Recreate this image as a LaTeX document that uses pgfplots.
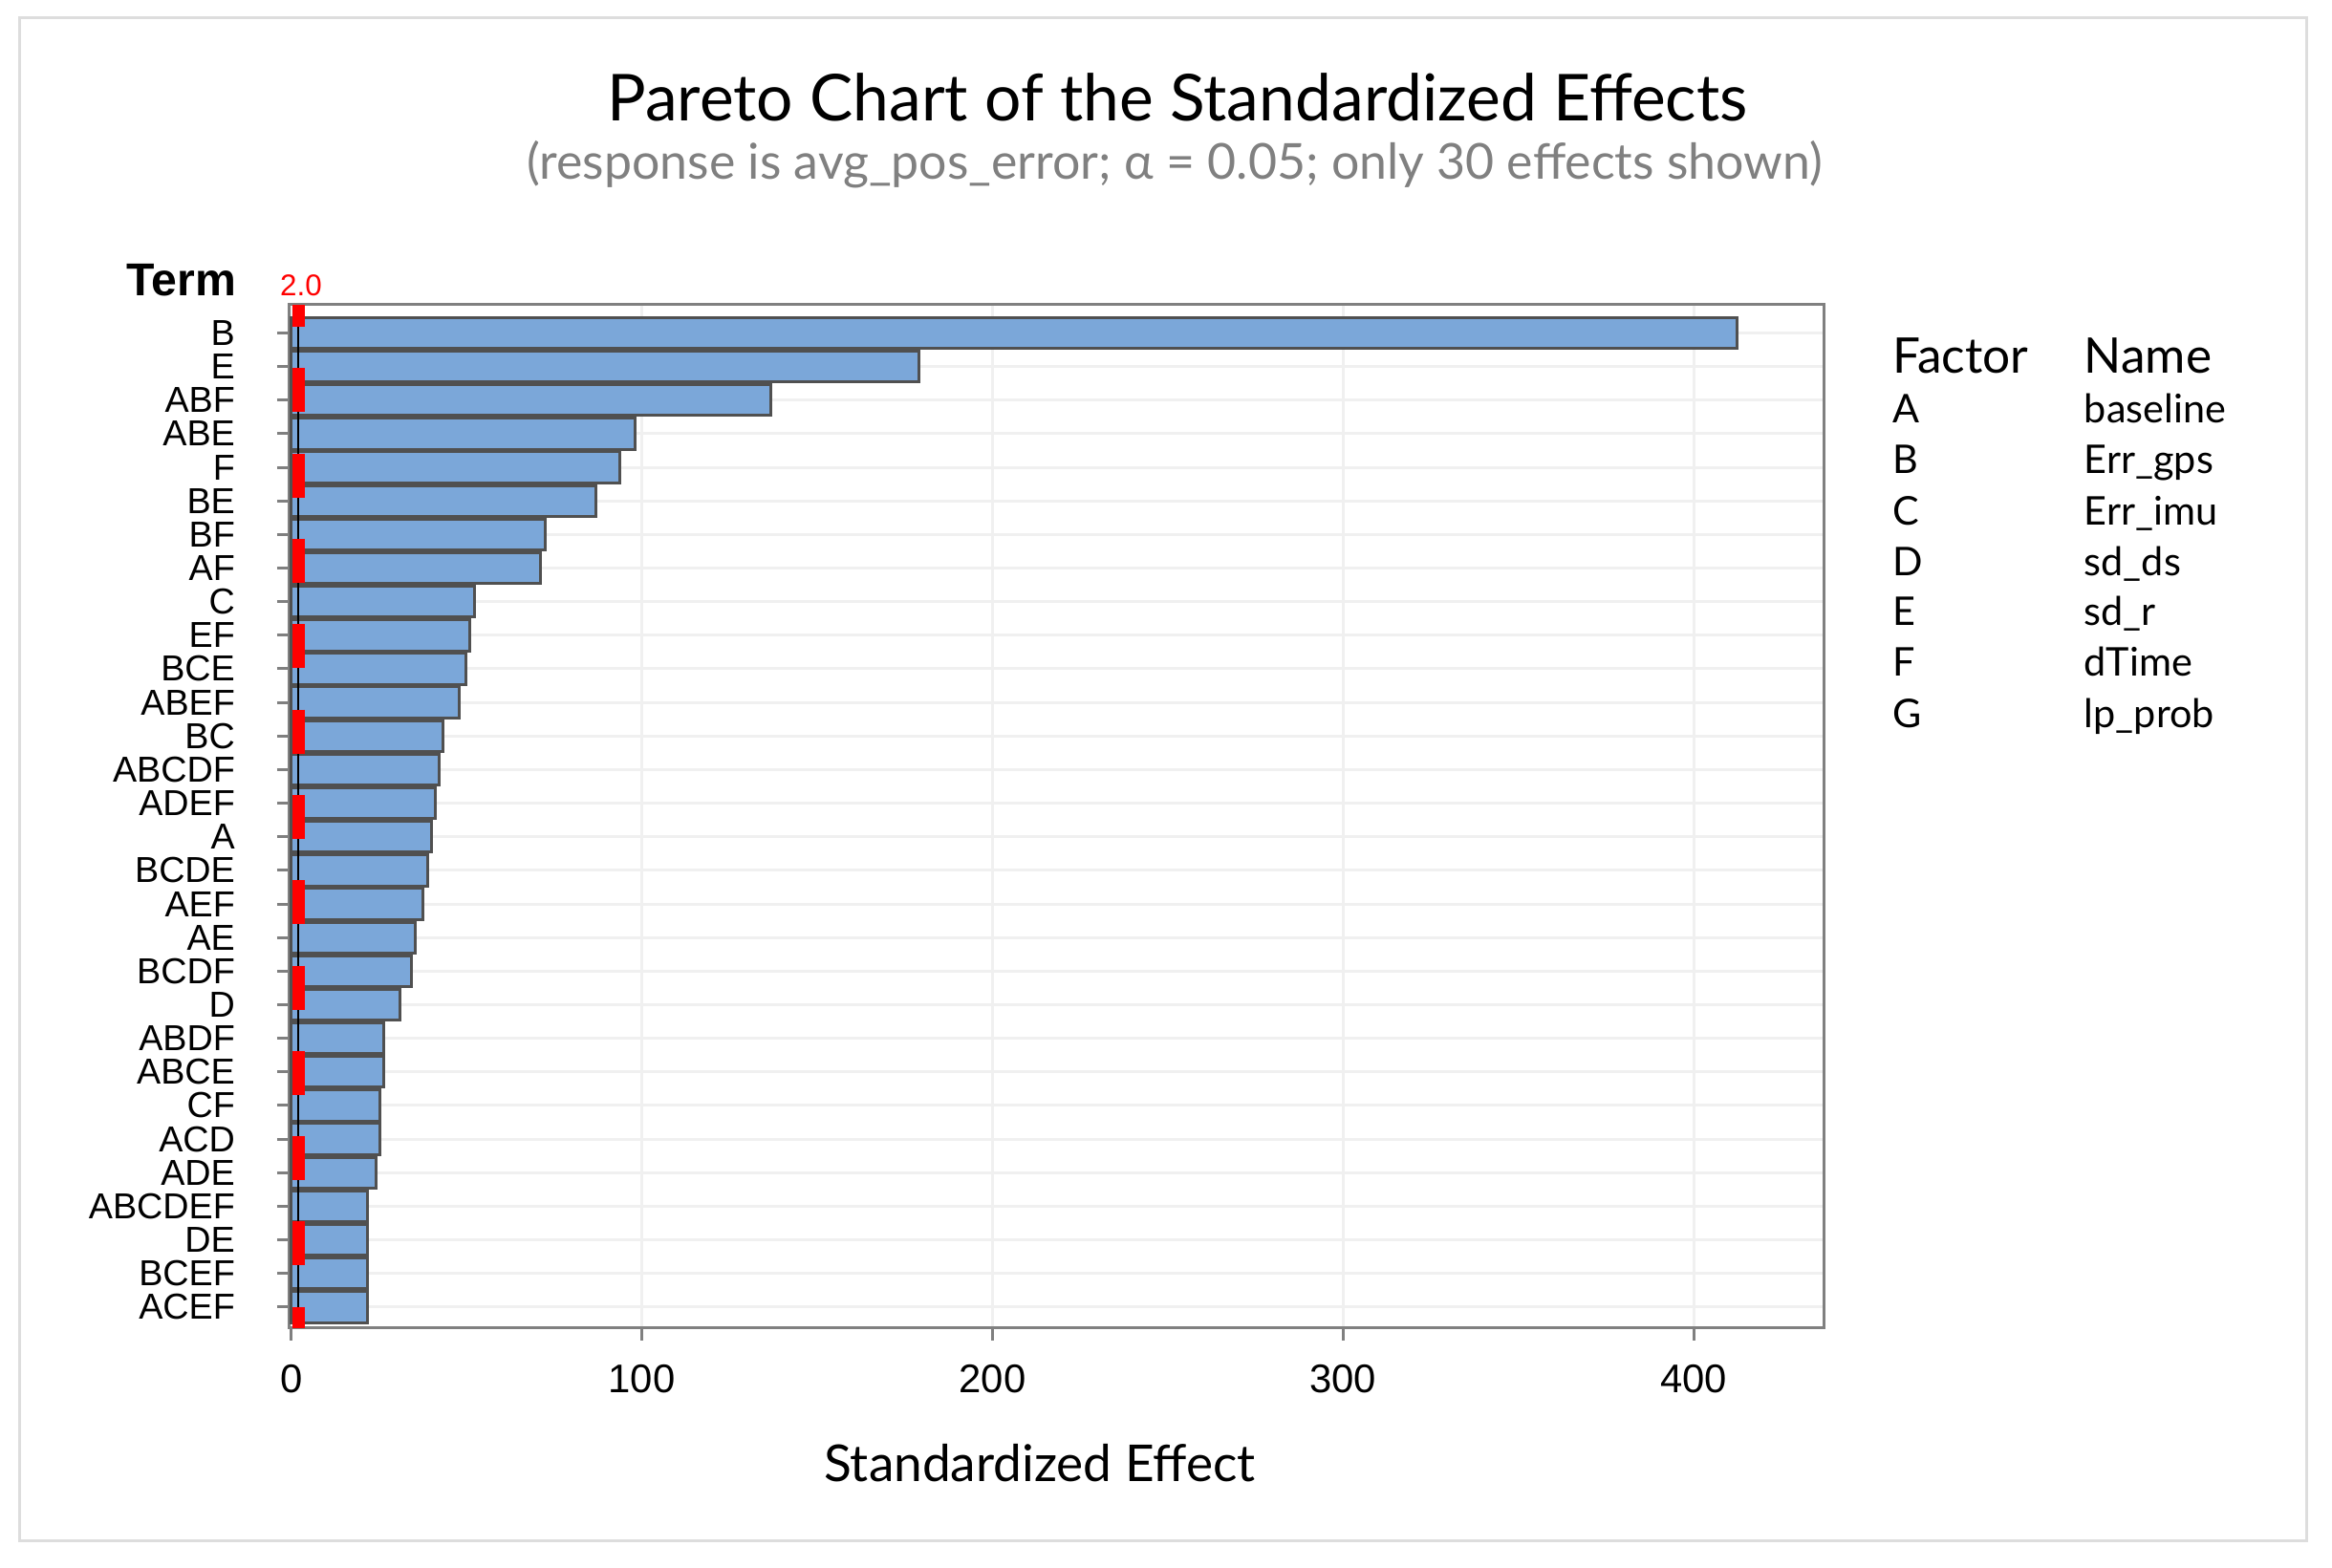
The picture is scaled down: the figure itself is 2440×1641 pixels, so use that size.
\documentclass[border=0pt]{standalone}
\usepackage{fontspec}
\setmainfont{Lato}
\newfontfamily\arialf{Liberation Sans}
\usepackage{pgfplots}
\pgfplotsset{compat=1.18}
\definecolor{barfill}{RGB}{123,167,217}
\definecolor{baredge}{RGB}{80,80,80}
\definecolor{axisgray}{RGB}{128,128,128}
\definecolor{gridgray}{RGB}{240,240,240}
\definecolor{subgray}{RGB}{128,128,128}
\definecolor{framegray}{RGB}{221,221,221}
\begin{document}
\begin{tikzpicture}
\begin{scope}[x=0.22pt,y=0.22pt]
\path (0,0) rectangle (2440,1641);
\draw[framegray, line width=0.66pt] (20,28) rectangle (2413,1622);
\node[anchor=base, inner sep=0pt, font=\fontsize{14.9}{18}\selectfont] at (1232,1514) {Pareto Chart of the Standardized Effects};
\node[anchor=base, inner sep=0pt, text=subgray, font=\fontsize{11.4}{13}\selectfont] at (1229,1453) {(response is avg\_pos\_error; α = 0.05; only 30 effects shown)};
\node[anchor=base west, inner sep=0pt, font=\arialf\bfseries\fontsize{10.6}{12}\selectfont] at (132,1331) {Term};
\node[anchor=base, inner sep=0pt, text=red, font=\arialf\fontsize{6.9}{8}\selectfont] at (315,1331) {2.0};
\node[anchor=base, inner sep=0pt, font=\fontsize{11.7}{14}\selectfont] at (1088,90) {Standardized Effect};
\node[anchor=base west, inner sep=0pt, font=\fontsize{11.3}{13}\selectfont] at (1980,1250) {Factor};
\node[anchor=base west, inner sep=0pt, font=\fontsize{11.3}{13}\selectfont] at (2180,1250) {Name};
\begin{scope}[every node/.style={anchor=base west, inner sep=0pt, font=\fontsize{9.1}{11}\selectfont}]
\node at (1980,1198) {A}; \node at (2180,1198) {baseline};
\node at (1980,1145) {B}; \node at (2180,1145) {Err\_gps};
\node at (1980,1091) {C}; \node at (2180,1091) {Err\_imu};
\node at (1980,1038) {D}; \node at (2180,1038) {sd\_ds};
\node at (1980,986) {E}; \node at (2180,986) {sd\_r};
\node at (1980,933) {F}; \node at (2180,933) {dTime};
\node at (1980,879) {G}; \node at (2180,879) {lp\_prob};
\end{scope}
\end{scope}
\begin{axis}[
  at={(66.66pt,55.22pt)}, anchor=south west,
  scale only axis, width=353.1pt, height=235.62pt,
  xmin=-0.5, xmax=437.07, ymin=-0.63, ymax=29.84,
  axis line style={axisgray, line width=0.66pt},
  xtick={0,100,200,300,400},
  ytick={0,...,29},
  yticklabels={ACEF,BCEF,DE,ABCDEF,ADE,ACD,CF,ABCE,ABDF,D,BCDF,AE,AEF,BCDE,A,ADEF,ABCDF,BC,ABEF,BCE,EF,C,AF,BF,BE,F,ABE,ABF,E,B},
  tick align=outside,
  major tick length=2.86pt,
  tick style={axisgray, line width=0.66pt},
  xtick pos=bottom, ytick pos=left,
  grid=major, major grid style={gridgray, line width=0.66pt},
  /pgf/number format/assume math mode=true,
  xticklabel style={font=\arialf\fontsize{9.2}{11}\selectfont, anchor=north, inner sep=0pt, yshift=-5.39pt},
  yticklabel style={font=\arialf\fontsize{8.3}{10}\selectfont, anchor=east, inner sep=0pt, xshift=-9.5pt},
]
\addplot[xbar, bar width=0.92, fill=barfill, draw=baredge, line width=0.66pt] coordinates {
(412.3,29) (179.0,28) (136.7,27) (98.1,26) (93.6,25) (87.0,24) (72.4,23) (71.2,22)
(52.2,21) (51.0,20) (49.8,19) (47.9,18) (43.3,17) (42.2,16) (41.0,15) (39.9,14)
(38.8,13) (37.6,12) (35.3,11) (34.2,10) (30.9,9) (26.4,8) (26.3,7) (25.3,6)
(25.2,5) (24.2,4) (21.8,3) (21.7,2) (21.6,1) (21.6,0)
};
\addplot[black, line width=0.3pt] coordinates {(2,-0.63) (2,29.84)};
\addplot[red, line width=2.86pt, dash pattern=on 10.12pt off 9.53pt, dash phase=5.06pt] coordinates {(2,29.84) (2,-0.63)};
\end{axis}
\end{tikzpicture}
\end{document}
